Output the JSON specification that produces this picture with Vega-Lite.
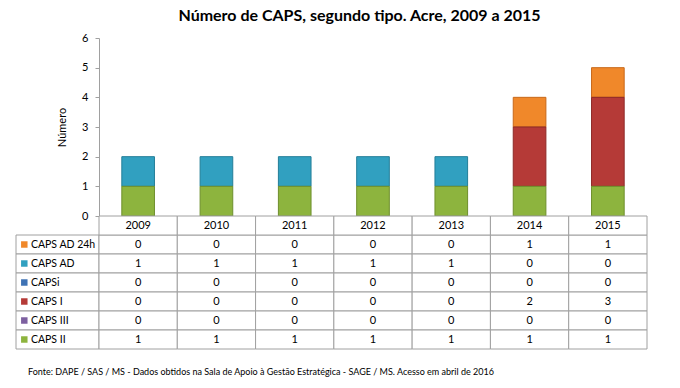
{
  "$schema": "https://vega.github.io/schema/vega-lite/v6.json",
  "background": "white",
  "padding": {"left": 15, "top": 8, "right": 34, "bottom": 8},
  "title": {"text": "Número de CAPS, segundo tipo. Acre, 2009 a 2015", "font": "Lato", "fontSize": 16, "fontWeight": "bold", "color": "black", "anchor": "middle", "dx": 28, "offset": 8},
  "datasets": {
    "caps": [
      {"ano": "2009", "series": "CAPS AD 24h", "value": 0},
      {"ano": "2010", "series": "CAPS AD 24h", "value": 0},
      {"ano": "2011", "series": "CAPS AD 24h", "value": 0},
      {"ano": "2012", "series": "CAPS AD 24h", "value": 0},
      {"ano": "2013", "series": "CAPS AD 24h", "value": 0},
      {"ano": "2014", "series": "CAPS AD 24h", "value": 1},
      {"ano": "2015", "series": "CAPS AD 24h", "value": 1},
      {"ano": "2009", "series": "CAPS AD", "value": 1},
      {"ano": "2010", "series": "CAPS AD", "value": 1},
      {"ano": "2011", "series": "CAPS AD", "value": 1},
      {"ano": "2012", "series": "CAPS AD", "value": 1},
      {"ano": "2013", "series": "CAPS AD", "value": 1},
      {"ano": "2014", "series": "CAPS AD", "value": 0},
      {"ano": "2015", "series": "CAPS AD", "value": 0},
      {"ano": "2009", "series": "CAPSi", "value": 0},
      {"ano": "2010", "series": "CAPSi", "value": 0},
      {"ano": "2011", "series": "CAPSi", "value": 0},
      {"ano": "2012", "series": "CAPSi", "value": 0},
      {"ano": "2013", "series": "CAPSi", "value": 0},
      {"ano": "2014", "series": "CAPSi", "value": 0},
      {"ano": "2015", "series": "CAPSi", "value": 0},
      {"ano": "2009", "series": "CAPS I", "value": 0},
      {"ano": "2010", "series": "CAPS I", "value": 0},
      {"ano": "2011", "series": "CAPS I", "value": 0},
      {"ano": "2012", "series": "CAPS I", "value": 0},
      {"ano": "2013", "series": "CAPS I", "value": 0},
      {"ano": "2014", "series": "CAPS I", "value": 2},
      {"ano": "2015", "series": "CAPS I", "value": 3},
      {"ano": "2009", "series": "CAPS III", "value": 0},
      {"ano": "2010", "series": "CAPS III", "value": 0},
      {"ano": "2011", "series": "CAPS III", "value": 0},
      {"ano": "2012", "series": "CAPS III", "value": 0},
      {"ano": "2013", "series": "CAPS III", "value": 0},
      {"ano": "2014", "series": "CAPS III", "value": 0},
      {"ano": "2015", "series": "CAPS III", "value": 0},
      {"ano": "2009", "series": "CAPS II", "value": 1},
      {"ano": "2010", "series": "CAPS II", "value": 1},
      {"ano": "2011", "series": "CAPS II", "value": 1},
      {"ano": "2012", "series": "CAPS II", "value": 1},
      {"ano": "2013", "series": "CAPS II", "value": 1},
      {"ano": "2014", "series": "CAPS II", "value": 1},
      {"ano": "2015", "series": "CAPS II", "value": 1}
    ]
  },
  "columns": 2,
  "spacing": 0,
  "bounds": "flush",
  "concat": [
    {
      "width": 83,
      "height": 178,
      "data": {"values": []},
      "mark": "point",
      "encoding": {}
    },
    {
      "width": 548,
      "height": 178,
      "data": {"name": "caps"},
      "transform": [{"filter": "datum.value > 0"}],
      "mark": {"type": "bar", "strokeWidth": 1},
      "encoding": {
        "x": {"field": "ano", "type": "ordinal", "scale": {"paddingInner": 0.583, "paddingOuter": 0.2915}, "axis": null},
        "y": {"field": "value", "type": "quantitative", "stack": "zero",
          "scale": {"domain": [0, 6]},
          "axis": {"values": [0, 1, 2, 3, 4, 5, 6], "format": "d", "title": "Número", "grid": false, "tickSize": 4, "labelPadding": 7,
            "domainColor": "#a0a0a0", "tickColor": "#a0a0a0", "labelColor": "black", "labelFontSize": 11, "labelFont": "Lato",
            "titleFont": "Lato", "titleFontSize": 11, "titleFontWeight": "normal", "titleColor": "black", "titlePadding": 14}},
        "color": {"field": "series", "type": "nominal",
          "scale": {"domain": ["CAPS II", "CAPS III", "CAPS I", "CAPSi", "CAPS AD", "CAPS AD 24h"],
                    "range": ["#8DB43E", "#7D60A0", "#B53A37", "#3E73B5", "#31A0C0", "#F0882A"]},
          "legend": null},
        "stroke": {"field": "series", "type": "nominal",
          "scale": {"domain": ["CAPS II", "CAPS III", "CAPS I", "CAPSi", "CAPS AD", "CAPS AD 24h"],
                    "range": ["#6E8F2C", "#5F4880", "#8E2A28", "#2C5790", "#237E98", "#C8691A"]},
          "legend": null},
        "order": {"field": "series", "sort": "descending"}
      }
    },
    {
      "width": 83,
      "height": 133,
      "data": {"name": "caps"},
      "transform": [{"filter": "datum.ano == '2009'"}],
      "title": {"text": "Fonte: DAPE  / SAS / MS - Dados obtidos na Sala de  Apoio  à Gestão Estratégica - SAGE / MS. Acesso em abril de 2016",
        "orient": "bottom", "anchor": "start", "frame": "group", "dx": 12, "offset": 18, "font": "Lato", "fontSize": 9, "fontWeight": "normal", "color": "black"},
      "encoding": {
        "y": {"field": "series", "type": "nominal",
          "scale": {"domain": ["Ano", "CAPS AD 24h", "CAPS AD", "CAPSi", "CAPS I", "CAPS III", "CAPS II"], "paddingInner": 0, "paddingOuter": 0},
          "axis": null}
      },
      "layer": [
        {"mark": {"type": "rect", "fill": "white", "stroke": "#a0a0a0", "strokeWidth": 1}},
        {"mark": {"type": "point", "shape": "square", "filled": true, "size": 42, "opacity": 1},
          "encoding": {
            "x": {"datum": 0.1, "type": "quantitative", "scale": {"domain": [0, 1]}, "axis": null},
            "color": {"field": "series", "type": "nominal", "legend": null}
          }},
        {"mark": {"type": "text", "align": "left", "baseline": "middle", "font": "Lato", "fontSize": 10.5, "color": "black"},
          "encoding": {
            "x": {"datum": 0.18, "type": "quantitative"},
            "text": {"field": "series"}
          }}
      ]
    },
    {
      "width": 548,
      "height": 133,
      "data": {"name": "caps"},
      "encoding": {
        "x": {"field": "ano", "type": "ordinal", "scale": {"paddingInner": 0, "paddingOuter": 0}, "axis": null}
      },
      "layer": [
        {"mark": {"type": "rect", "fill": "white", "stroke": "#a0a0a0", "strokeWidth": 1},
          "encoding": {"y": {"field": "series", "type": "nominal",
            "scale": {"domain": ["Ano", "CAPS AD 24h", "CAPS AD", "CAPSi", "CAPS I", "CAPS III", "CAPS II"], "paddingInner": 0, "paddingOuter": 0},
            "axis": null}}},
        {"transform": [{"filter": "datum.series == 'CAPS II'"}],
          "mark": {"type": "rect", "fill": "white", "stroke": "#a0a0a0", "strokeWidth": 1},
          "encoding": {"y": {"datum": "Ano"}}},
        {"mark": {"type": "text", "baseline": "middle", "font": "Lato", "fontSize": 11, "color": "black"},
          "encoding": {"y": {"field": "series", "type": "nominal"}, "text": {"field": "value", "type": "quantitative"}}},
        {"transform": [{"filter": "datum.series == 'CAPS II'"}],
          "mark": {"type": "text", "baseline": "middle", "font": "Lato", "fontSize": 11, "color": "black"},
          "encoding": {"y": {"datum": "Ano"}, "text": {"field": "ano"}}}
      ]
    }
  ],
  "config": {"view": {"stroke": null}, "font": "Lato"}
}
